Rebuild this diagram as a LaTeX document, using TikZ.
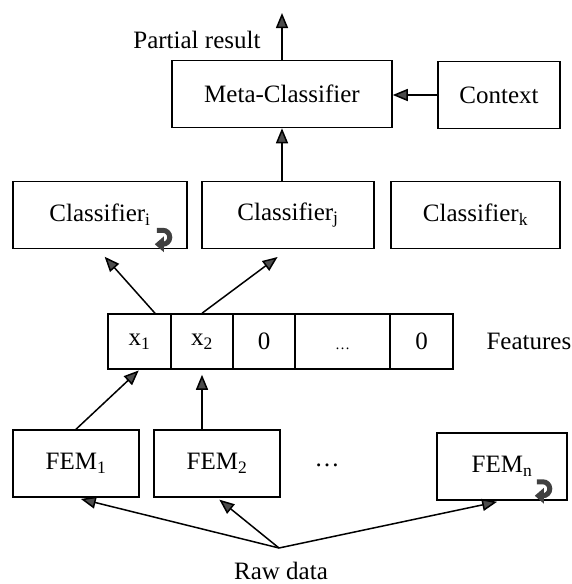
\documentclass[tikz,border=0pt]{standalone}
\usepackage{fontspec}
\setmainfont{Liberation Serif}
\usepackage{tikz}
\usetikzlibrary{
	arrows.meta,
	calc,
	positioning
}
\newcommand\UTurnMark[1]{
	% #1: south east corner of the box that gets the mark
	\draw[line width=5pt, black!75, -{Triangle[length=9pt, width=15pt]}]
		([shift={(-31,-19)}]#1) -- ++(6,0)
		arc[radius=7, start angle=-90, delta angle=180] -- ++(-8,0);
}

\begin{document}
\begin{tikzpicture}[x=1pt, y=-1pt,
		every node/.style={font=\fontsize{25}{30}\selectfont},
		box/.style={draw, line width=1.5pt, minimum height=67pt, inner sep=0pt},
		cell/.style={draw, line width=1.5pt, minimum height=55pt, inner sep=0pt},
		arr/.style={line width=1.5pt, -{Triangle[length=15pt, width=12pt, fill=black!70]}}
	]
	\useasboundingbox (0,0) rectangle (571,584);

	% top row
	\node[box, minimum width=220] (meta) at (282,94) {Meta-Classifier};
	\node[box, minimum width=122] (context) at (499,95) {Context};
	\coordinate (result) at (282,13);
	\node[anchor=east] (partial) at (264,40) {Partial result};

	% classifiers
	\foreach \name/\xpos/\width/\sub in {clfi/100/174/i, clfj/288/172/j, clfk/475.5/169/k} {
		\node[box, minimum width=\width] (\name) at (\xpos,215) {Classifier\textsubscript{\sub}};
	}

	% feature vector
	\foreach \name/\xpos/\width/\txt in {x1/139.5/63/x\textsubscript{1}, x2/202/62/x\textsubscript{2},
			zero1/264/62/0, gap/342.5/95/{\vphantom{0}\fontsize{15}{18}\selectfont\dots}, zero2/421.5/63/0} {
		\node[cell, minimum width=\width] (\name) at (\xpos,341.5) {\txt};
	}
	\node[anchor=west] (features) at (483,341) {Features};

	% feature extraction modules
	\node[box, minimum width=126] (fem1) at (76,463.5) {FEM\textsubscript{1}};
	\node[box, minimum width=126] (fem2) at (217,463.5) {FEM\textsubscript{2}};
	\node (femdots) at (327,465) {\dots};
	\node[box, minimum width=130] (femn) at (502,466.5) {FEM\textsubscript{n}};

	\coordinate (raw) at (279,548);
	\node (rawlabel) at (281,571) {Raw data};

	% connectors
	\draw[arr] (meta.north) -- (result);
	\draw[arr] (context.west) -- (context.west -| meta.east);
	\draw[arr] (meta.south |- clfj.north) -- (meta.south);
	\draw[arr, shorten >=10pt] ([xshift=15.5pt]x1.north) -- ([xshift=-2pt]clfi.south);
	\draw[arr, shorten >=13pt] (x2.north) -- (clfj.south);
	\draw[arr, shorten >=1pt] (fem1.north) -- (x1.south);
	\draw[arr, shorten >=5pt] (x2.south |- fem2.north) -- (x2.south);
	\draw[arr, shorten >=5pt] (raw) -- (fem1.south);
	\draw[arr, shorten >=3pt] (raw) -- (fem2.south);
	\draw[arr, shorten >=5pt] (raw) -- (femn.south);

	\UTurnMark{clfi.south east}
	\UTurnMark{femn.south east}

\end{tikzpicture}
\end{document}
